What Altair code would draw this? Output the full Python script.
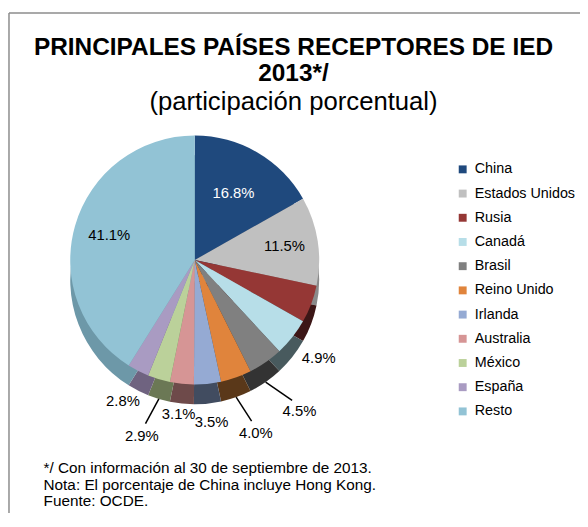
import altair as alt
import pandas as pd

# ---------------- data ----------------
categories = ["China", "Estados Unidos", "Rusia", "Canadá", "Brasil", "Reino Unido",
              "Irlanda", "Australia", "México", "España", "Resto"]
values = [16.8, 11.5, 4.9, 4.9, 4.5, 4.0, 3.5, 3.1, 2.9, 2.8, 41.1]
labels = ["16.8%", "11.5%", "", "4.9%", "4.5%", "4.0%", "3.5%", "3.1%", "2.9%", "2.8%", "41.1%"]

title_lines = ["PRINCIPALES PAÍSES RECEPTORES DE IED", "2013*/"]
subtitle = "(participación porcentual)"
notes = ["*/ Con información al 30 de septiembre de 2013.",
         "Nota: El porcentaje de China incluye Hong Kong.",
         "Fuente: OCDE."]

# ---------------- styles ----------------
top_colors = ["#1F497D", "#C0C0C0", "#953735", "#B7DEE8", "#808080", "#E0843C",
              "#95AAD3", "#D69595", "#BBD19A", "#A99BC2", "#92C3D5"]
side_colors = ["#15325A", "#8A8A8A", "#3C1616", "#485A5E", "#333333", "#5A3819",
               "#414C60", "#6E4A4A", "#6B7855", "#6F6380", "#6D98A8"]
FONT = "Liberation Sans"
CX, CY, R, D = 189, 252, 126, 20
label_radius = {"China": 78, "Estados Unidos": 92, "Resto": 90, "Brasil": 186,
                "Reino Unido": 186, "México": 186, "Irlanda": 165, "Australia": 157}
default_radius = 160
leader_cats = ["Brasil", "Reino Unido", "México"]

df = pd.DataFrame({"idx": list(range(len(categories))), "cat": categories,
                   "val": values, "lab": labels})

expr = " : ".join([f"datum.cat == '{k}' ? {v}" for k, v in label_radius.items()]) + f" : {default_radius}"

base = alt.Chart(df)
theta = alt.Theta("val:Q", stack=True)
order = alt.Order("idx:Q", sort="ascending")

side = base.mark_arc(outerRadius=R).encode(
    theta=theta, order=order,
    color=alt.Color("cat:N", scale=alt.Scale(domain=categories, range=side_colors), legend=None),
    x=alt.value(CX), y=alt.value(CY + D))

top = base.mark_arc(outerRadius=R).encode(
    theta=theta, order=order,
    color=alt.Color("cat:N", scale=alt.Scale(domain=categories, range=top_colors),
                    legend=alt.Legend(orient="none", legendX=453, legendY=153, title=None,
                                      symbolType="square", symbolSize=64, symbolStrokeWidth=0,
                                      labelFont=FONT, labelFontSize=14.5, labelColor="black",
                                      labelOffset=5, rowPadding=9.5, padding=0, labelLimit=200)),
    x=alt.value(CX), y=alt.value(CY))

# mid-angle of every slice, from the cumulative share
angles = base.transform_window(
    cum="sum(val)", sort=[alt.SortField("idx")], frame=[None, 0]
).transform_calculate(
    a="(datum.cum - datum.val/2)/100*2*PI"
)

text = angles.transform_calculate(r=expr).transform_calculate(
    tx=f"{CX}+datum.r*sin(datum.a)", ty=f"{CY}-datum.r*cos(datum.a)"
).mark_text(font=FONT, fontSize=15, align="center", baseline="middle").encode(
    x=alt.X("tx:Q", scale=None), y=alt.Y("ty:Q", scale=None),
    text="lab:N",
    color=alt.condition("datum.cat == 'China'", alt.value("white"), alt.value("black")))

lines = angles.transform_filter(
    alt.FieldOneOfPredicate(field="cat", oneOf=leader_cats)
).transform_calculate(
    x1=f"{CX}+{R}*sin(datum.a)", y1=f"{CY + D}-{R}*cos(datum.a)",
    x2=f"{CX}+173*sin(datum.a)", y2=f"{CY}-173*cos(datum.a)"
).mark_rule(color="black", strokeWidth=1.5).encode(
    x=alt.X("x1:Q", scale=None), y=alt.Y("y1:Q", scale=None), x2="x2:Q", y2="y2:Q")


def txt(s, x, y, size, bold=False, align="center"):
    return alt.Chart(pd.DataFrame({"t": [s]})).mark_text(
        font=FONT, fontSize=size, fontWeight="bold" if bold else "normal",
        align=align, baseline="alphabetic", color="black").encode(
        text="t:N", x=alt.value(x), y=alt.value(y))


t1 = txt(title_lines[0], 289, 44, 24.7, bold=True)
t2 = txt(title_lines[1], 289, 71, 24.7, bold=True)
t3 = txt(subtitle, 289, 100, 26)
n1 = txt(notes[0], 36, 468, 15.5, align="left")
n2 = txt(notes[1], 36, 484.5, 15.5, align="left")
n3 = txt(notes[2], 36, 501, 15.5, align="left")

bdf = alt.Chart(pd.DataFrame({"k": [0]}))
top_line = bdf.mark_rule(color="#8C8C8C", strokeWidth=1.5).encode(
    x=alt.value(1), x2=alt.value(700), y=alt.value(2))
left_line = bdf.mark_rule(color="#8C8C8C", strokeWidth=1.5).encode(
    x=alt.value(1), y=alt.value(2), y2=alt.value(700))

chart = alt.layer(top_line, left_line, side, top, lines, text, t1, t2, t3, n1, n2, n3).resolve_scale(
    color="independent"
).properties(width=579, height=505, padding=0, autosize="none").configure_view(stroke=None)

chart.save("out.html", embed_options={"renderer": "svg", "actions": False})
